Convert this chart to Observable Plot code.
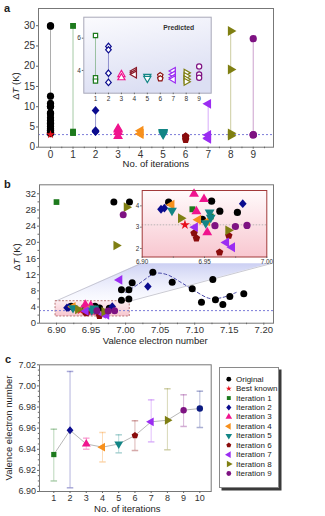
<!DOCTYPE html>
<html>
<head>
<meta charset="utf-8">
<script src="https://cdn.jsdelivr.net/npm/d3@7"></script>
<script src="https://cdn.jsdelivr.net/npm/@observablehq/plot@0.6"></script>
<style>
html,body{margin:0;padding:0;background:#fff;}
#root{position:relative;width:325px;height:516px;overflow:hidden;font-family:'Liberation Sans',Arial,Helvetica,sans-serif;}
#root svg{overflow:visible;}
</style>
</head>
<body>
<div id="root"></div>
<script>
// ---------------- data ----------------
const seriesNames   = ["Original","Best known","Iteration 1","Iteration 2","Iteration 3","Iteration 4","Iteration 5","Iteration 6","Iteration 7","Iteration 8","Iteration 9"];
const seriesColors  = ["#000000","#e8101c","#1d7a1d","#0b0b8e","#f0148e","#f7901c","#128585","#8a0c0c","#9b2cf2","#7f7f12","#7e1282"];
const seriesSymbols = ["circle","star","square","diamond","triUp","triLeft","triDown","pentagon","triLeft","triRight","circle"];
const seriesStep    = [0,0,1,2,3,4,5,6,7,8,9];

const venOriginal = [6.9212,6.9557,6.9623,6.9764,6.9483,6.9830,7.0056,6.9940,6.9940,7.0047,7.0047,7.0095,7.0394,7.0674,7.0964,7.1098,7.1262,7.1300,7.1407,7.1508,7.1710];
const dtOriginal  = [4.17,4.22,3.75,3.69,3.37,29.95,29.95,8.26,5.70,8.26,6.00,10.00,12.60,10.10,8.50,5.20,10.80,5.80,4.60,6.60,7.27];
const venBest = [6.9343];
const dtBest  = [3.11];
const venIter1 = [6.9000,6.9403,6.9550];
const dtIter1  = [29.95,3.84,3.50];
const venIter2 = [6.9151,6.9178,6.9807,7.0322];
const dtIter2  = [3.84,3.89,4.10,9.07];
const venIter3 = [6.9416,6.9496,6.9435,6.9522];
const dtIter3  = [4.56,4.31,3.74,2.75];
const venIter4 = [6.9236,6.9450,6.9522];
const dtIter4  = [4.05,3.35,3.27];
const venIter5 = [6.9239,6.9541,6.9510,6.9550];
const dtIter5  = [3.78,3.69,3.19,3.45];
const venIter6 = [6.9416,6.9435,6.9695,6.9621];
const dtIter6  = [2.72,2.48,2.60,1.82];
const venIter7 = [6.9912,6.9424,6.9674,6.9722];
const dtIter7  = [10.70,3.00,2.28,2.06];
const venIter8 = [7.0013,6.9864,6.9310,6.9690];
const dtIter8  = [28.70,19.20,3.42,2.85];
const venIter9 = [6.9965,6.9584,6.9748,6.9841];
const dtIter9  = [26.80,3.07,3.03,3.08];

// predicted values (inset of panel a)
const predSteps  = [1,2,3,4,5,6,7,8,9];
const predColors = ["#1d7a1d","#0b0b8e","#f0148e","#8a1a2a","#128585","#8a0c0c","#9b2cf2","#7f7f12","#7e1282"];
const predSymbols = ["square","diamond","triUp","triLeft","triDown","pentagon","triLeft","triRight","circle"];
const predIter1 = [6.17,3.55,3.34];
const predIter2 = [5.49,5.28,3.83,3.26];
const predIter3 = [3.75,3.55];
const predIter4 = [3.96,3.85,3.75];
const predIter5 = [3.63,3.50];
const predIter6 = [3.69,3.50];
const predIter7 = [3.96,3.75,3.55,3.45];
const predIter8 = [3.85,3.65,3.45,3.30];
const predIter9 = [4.25,3.75,3.55];

// model curve (panel b)
const curveVen = [7.000,7.018,7.043,7.060,7.080,7.100,7.122,7.140,7.160];
const curveDT  = [7.60,9.60,12.30,12.00,10.10,8.00,6.10,6.35,7.60];

// zoom box + wedge (panel b)
const zoomBoxVen = [6.8986,7.0060];
const zoomBoxDT  = [1.66,5.44];
const wedgeDT       = [5.44,14.7];
const wedgeLeftVen  = [6.8986,7.0216];
const wedgeRightVen = [7.0060,7.2097];

// panel c
const cIter    = [1,2,3,4,5,6,7,8,9,10];
const cMean    = [6.935,6.958,6.945,6.942,6.945,6.953,6.966,6.9675,6.977,6.9786];
const cLow     = [6.910,6.9035,6.940,6.928,6.9366,6.9388,6.947,6.9395,6.9616,6.9606];
const cHigh    = [6.959,7.0137,6.9505,6.9559,6.9537,6.967,6.9868,6.9973,6.9916,6.995];
const cColors  = ["#1d7a1d","#0b0b8e","#f0148e","#f7901c","#128585","#8a0c0c","#9b2cf2","#7f7f12","#7e1282","#0b1a80"];
const cSymbols = ["square","diamond","triUp","triLeft","triDown","pentagon","triLeft","triRight","circle","circle"];

// tick labels
const aTicksX = [0,1,2,3,4,5,6,7,8,9];
const aTicksY = [0,5,10,15,20,25,30];
const aInsetTicksX = [1,2,3,4,5,6,7,8,9];
const aInsetTicksY = [4,6];
const bTicksX = [6.90,6.95,7.00,7.05,7.10,7.15,7.20];
const bTicksY = [0,4,8,12,16,20,24,28,32];
const bInsetTicksX = [6.90,6.95,7.00];
const bInsetTicksY = [2,3,4];
const cTicksX = [1,2,3,4,5,6,7,8,9,10];
const cTicksY = [6.90,6.92,6.94,6.96,6.98,7.00,7.02];

const seriesVen = [venOriginal,venBest,venIter1,venIter2,venIter3,venIter4,venIter5,venIter6,venIter7,venIter8,venIter9];
const seriesDT  = [dtOriginal,dtBest,dtIter1,dtIter2,dtIter3,dtIter4,dtIter5,dtIter6,dtIter7,dtIter8,dtIter9];
const predDT    = [predIter1,predIter2,predIter3,predIter4,predIter5,predIter6,predIter7,predIter8,predIter9];

// ---------------- symbols ----------------
const sqrt3 = Math.sqrt(3);
const symTri = dir => ({draw(ctx, size) {
  const y = -Math.sqrt(size / (sqrt3 * 3));
  let p = [[0, 2 * y], [-sqrt3 * y, -y], [sqrt3 * y, -y]];
  if (dir === "down") p = p.map(([a, b]) => [a, -b]);
  if (dir === "left") p = p.map(([a, b]) => [b, a]);
  if (dir === "right") p = p.map(([a, b]) => [-b, a]);
  ctx.moveTo(p[0][0], p[0][1]); ctx.lineTo(p[1][0], p[1][1]); ctx.lineTo(p[2][0], p[2][1]); ctx.closePath();
}});
const symDiamond = {draw(ctx, size) {
  const w = Math.sqrt(size / 2) * 0.95, h = Math.sqrt(size / 2) * 1.08;
  ctx.moveTo(0, -h); ctx.lineTo(w, 0); ctx.lineTo(0, h); ctx.lineTo(-w, 0); ctx.closePath();
}};
const symPentagon = {draw(ctx, size) {
  const R = Math.sqrt(2 * size / (5 * Math.sin(2 * Math.PI / 5)));
  for (let k = 0; k < 5; k++) {
    const a = -Math.PI / 2 + k * 2 * Math.PI / 5;
    k ? ctx.lineTo(R * Math.cos(a), R * Math.sin(a)) : ctx.moveTo(R * Math.cos(a), R * Math.sin(a));
  }
  ctx.closePath();
}};
const symCap = {draw(ctx, size) { const w = Math.sqrt(size) / 1.2; ctx.moveTo(-w, 0); ctx.lineTo(w, 0); }};
const SYMBOLS = {circle: d3.symbolCircle, star: d3.symbolStar, square: d3.symbolSquare, diamond: symDiamond,
  triUp: symTri("up"), triDown: symTri("down"), triLeft: symTri("left"), triRight: symTri("right"), pentagon: symPentagon};
const SCALE = {circle: 1, star: 0.75, square: 0.92, diamond: 0.9, triUp: 1.02, triDown: 1.02, triLeft: 1.02, triRight: 1.02, pentagon: 0.95};

// ---------------- helpers ----------------
const FONT = "'Liberation Sans', Arial, Helvetica, sans-serif";
const root = document.getElementById("root");
function place(node, left, top) {
  node.style.position = "absolute"; node.style.left = left + "px"; node.style.top = top + "px";
  root.appendChild(node);
}
function label(html, cx, cy, size, rotate = false, weight = "normal") {
  const d = document.createElement("div");
  d.innerHTML = html;
  d.style.cssText = `position:absolute;left:${cx}px;top:${cy}px;font:${weight} ${size}px ${FONT};color:#222;white-space:nowrap;line-height:1;transform:translate(-50%,-50%)${rotate ? " rotate(-90deg)" : ""};`;
  root.appendChild(d);
}
function gradient(id, stops, x2 = 0, y2 = 1) {
  return () => {
    const g = d3.create("svg:defs");
    const lg = g.append("linearGradient").attr("id", id).attr("x1", 0).attr("y1", 0).attr("x2", x2).attr("y2", y2);
    stops.forEach(([o, c, op]) => lg.append("stop").attr("offset", o).attr("stop-color", c).attr("stop-opacity", op ?? 1));
    return g.node();
  };
}
function styleOf(size) {
  return {background: "transparent", color: "#333", fontFamily: FONT, fontSize: size + "px", overflow: "visible"};
}
function dotMark(data, x, y, sym, color, r, extra = {}) {
  return Plot.dot(data, {x, y, symbol: SYMBOLS[sym], r: r * SCALE[sym], fill: color, stroke: "none", ...extra});
}
const minorAxis = (axis, ticks, size, anchor) => axis(ticks, {tickSize: size, tickFormat: () => "", anchor, label: null, stroke: "#666"});

// ---------------- panel a ----------------
{
  const marks = [];
  marks.push(Plot.ruleY(dtBest, {y: d => d, stroke: "#7b7bd8", strokeDasharray: "2,2", strokeWidth: 1}));
  for (const s of aTicksX) {
    const idx = seriesStep.map((st, i) => st === s ? i : -1).filter(i => i >= 0);
    const vals = idx.flatMap(i => seriesDT[i]);
    const col = s === 0 ? "#777" : seriesColors[idx[0]];
    marks.push(Plot.ruleX([{x: s, y1: d3.min(vals), y2: d3.max(vals)}], {x: "x", y1: "y1", y2: "y2", stroke: col, strokeOpacity: s === 0 ? 0.6 : 0.4, strokeWidth: 1}));
  }
  seriesDT.forEach((arr, i) => {
    const data = arr.map(v => ({x: seriesStep[i], y: v}));
    marks.push(dotMark(data, "x", "y", seriesSymbols[i], seriesColors[i], 3.6));
  });
  marks.push(Plot.frame({stroke: "#777"}));
  marks.push(Plot.axisX(aTicksX, {tickSize: 2, tickPadding: 1.5, label: null, stroke: "#666"}));
  marks.push(minorAxis(Plot.axisX, d3.range(0.5, 9.9, 1), 1.5));
  marks.push(Plot.axisY(aTicksY, {tickSize: 2, tickPadding: 1.5, label: null, stroke: "#666"}));
  const svg = Plot.plot({
    width: 325, height: 172, marginLeft: 38, marginRight: 52, marginTop: 8, marginBottom: 25.3,
    x: {domain: [-0.533, 9.9]}, y: {domain: [0, 34.25]},
    style: styleOf(10), marks
  });
  place(svg, 0, 0);
}

// ---------------- inset of panel a ----------------
{
  const marks = [gradient("gradInsetA", [[0, "#fbfbfe"], [1, "#dcdff3"]], 0.3, 1)];
  marks.push(Plot.frame({fill: "url(#gradInsetA)", stroke: "#a8a8b8"}));
  predDT.forEach((arr, i) => {
    marks.push(Plot.ruleX([{x: predSteps[i], y1: d3.min(arr), y2: d3.max(arr)}], {x: "x", y1: "y1", y2: "y2", stroke: predColors[i], strokeOpacity: 0.4}));
  });
  predDT.forEach((arr, i) => {
    const data = arr.map(v => ({x: predSteps[i], y: v}));
    marks.push(dotMark(data, "x", "y", predSymbols[i], "white", 2.6, {stroke: predColors[i], strokeWidth: 1.2}));
  });
  marks.push(Plot.text(["Predicted"], {frameAnchor: "top-right", textAnchor: "end", dx: -17, dy: 8, fontWeight: "bold", fontSize: 6.8, fill: "#333"}));
  marks.push(Plot.axisX(aInsetTicksX, {tickSize: 1.5, tickPadding: 1.5, label: null, stroke: "#666"}));
  marks.push(Plot.axisY(aInsetTicksY, {tickSize: 1.5, tickPadding: 1.5, label: null, stroke: "#666"}));
  const svg = Plot.plot({
    width: 145, height: 92, marginLeft: 13.3, marginRight: 4.3, marginTop: 4.7, marginBottom: 11.3,
    x: {domain: [0.097, 9.93]}, y: {domain: [2.59, 7.3]},
    style: styleOf(6.5), marks
  });
  place(svg, 70, 12);
}

// ---------------- panel b ----------------
{
  const marks = [
    gradient("gradWedge", [[0, "#c9cdf2", 0.95], [1, "#f4f5ff", 0.4]]),
    gradient("gradZoomBox", [[0, "#fdeef1"], [1, "#f7c6cf"]])
  ];
  const wedge = wedgeDT.map((y, i) => ({y, x1: wedgeLeftVen[i], x2: wedgeRightVen[i]}));
  marks.push(Plot.areaX(wedge, {y: "y", x1: "x1", x2: "x2", fill: "url(#gradWedge)"}));
  marks.push(Plot.line(wedge, {x: "x1", y: "y", stroke: "#bdbdc8", strokeWidth: 0.8}));
  marks.push(Plot.line(wedge, {x: "x2", y: "y", stroke: "#bdbdc8", strokeWidth: 0.8}));
  marks.push(Plot.rect([{x1: zoomBoxVen[0], x2: zoomBoxVen[1], y1: zoomBoxDT[0], y2: zoomBoxDT[1]}],
    {x1: "x1", x2: "x2", y1: "y1", y2: "y2", fill: "url(#gradZoomBox)", stroke: "#b26a6a", strokeDasharray: "2,1.5", strokeWidth: 0.9}));
  marks.push(Plot.ruleY(dtBest, {y: d => d, stroke: "#7b7bd8", strokeDasharray: "2,2", strokeWidth: 1}));
  const curve = curveVen.map((x, i) => ({x, y: curveDT[i]}));
  marks.push(Plot.line(curve, {x: "x", y: "y", curve: "catmull-rom", stroke: "#4848a8", strokeDasharray: "3,2.5", strokeWidth: 1}));
  seriesDT.forEach((arr, i) => {
    const data = arr.map((v, j) => ({x: seriesVen[i][j], y: v}));
    marks.push(dotMark(data, "x", "y", seriesSymbols[i], seriesColors[i], 3.5));
  });
  marks.push(Plot.frame({stroke: "#777"}));
  marks.push(Plot.axisX(bTicksX, {tickSize: 2, tickPadding: 1.5, tickFormat: d3.format(".2f"), label: null, stroke: "#666"}));
  marks.push(minorAxis(Plot.axisX, d3.range(6.925, 7.2, 0.05), 1.5));
  marks.push(Plot.axisY(bTicksY, {tickSize: 2, tickPadding: 1.5, label: null, stroke: "#666"}));
  marks.push(minorAxis(Plot.axisY, d3.range(2, 34, 4), 1.5));
  const svg = Plot.plot({
    width: 325, height: 166, marginLeft: 39, marginRight: 52, marginTop: 12.3, marginBottom: 15.3,
    x: {domain: [6.8754, 7.214]}, y: {domain: [0, 34.22]},
    style: styleOf(9.5), marks
  });
  place(svg, 0, 172);
}

// ---------------- inset of panel b ----------------
{
  const xd = [6.90, 7.00], yd = [1.60, 4.72];
  const marks = [gradient("gradInsetB", [[0, "#fffafb"], [1, "#f8c7d0"]])];
  marks.push(Plot.frame({fill: "url(#gradInsetB)", stroke: "none"}));
  marks.push(Plot.ruleY(dtBest, {y: d => d, stroke: "#aaa", strokeDasharray: "1.5,1.5", strokeWidth: 0.8}));
  seriesDT.forEach((arr, i) => {
    const data = arr.map((v, j) => ({x: seriesVen[i][j], y: v}))
      .filter(d => d.x >= xd[0] - 0.003 && d.x <= xd[1] + 0.003 && d.y >= yd[0] - 0.2 && d.y <= yd[1] + 0.2);
    marks.push(dotMark(data, "x", "y", seriesSymbols[i], seriesColors[i], i === 1 ? 4.2 : 3.6));
  });
  marks.push(Plot.frame({stroke: "#a23a3a", strokeWidth: 1}));
  marks.push(Plot.axisX(bInsetTicksX, {tickSize: 1.5, tickPadding: 1.5, tickFormat: d3.format(".2f"), label: null, stroke: "#666"}));
  marks.push(minorAxis(Plot.axisX, [6.925, 6.975], 1.2));
  marks.push(Plot.axisY(bInsetTicksY, {tickSize: 1.5, tickPadding: 1.5, label: null, stroke: "#666"}));
  const svg = Plot.plot({
    width: 146, height: 80, marginLeft: 13.7, marginRight: 7.7, marginTop: 4, marginBottom: 9.5,
    x: {domain: xd}, y: {domain: yd},
    style: styleOf(6.3), marks
  });
  place(svg, 128, 186);
}

// ---------------- panel c ----------------
{
  const cData = cIter.map((x, i) => ({x, mean: cMean[i], low: cLow[i], high: cHigh[i], color: cColors[i]}));
  const marks = [];
  marks.push(Plot.ruleX(cData, {x: "x", y1: "low", y2: "high", stroke: "color", strokeOpacity: 0.3, strokeWidth: 1}));
  marks.push(Plot.dot(cData, {x: "x", y: "low", symbol: symCap, r: 2.2, stroke: "color", strokeOpacity: 0.35, fill: "none"}));
  marks.push(Plot.dot(cData, {x: "x", y: "high", symbol: symCap, r: 2.2, stroke: "color", strokeOpacity: 0.35, fill: "none"}));
  marks.push(Plot.line(cData, {x: "x", y: "mean", stroke: "#b8b8b8", strokeWidth: 1}));
  cData.forEach((d, i) => marks.push(dotMark([d], "x", "mean", cSymbols[i], cColors[i], 3.2)));
  marks.push(Plot.frame({stroke: "#777"}));
  marks.push(Plot.axisX(cTicksX, {tickSize: 2, tickPadding: 1.5, label: null, stroke: "#666"}));
  marks.push(Plot.axisY(cTicksY, {tickSize: 2, tickPadding: 1.5, tickFormat: d3.format(".2f"), label: null, stroke: "#666"}));
  marks.push(minorAxis(Plot.axisY, d3.range(6.905, 7.02, 0.005).filter(v => Math.abs(v * 50 - Math.round(v * 50)) > 0.01), 1.2));
  const svg = Plot.plot({
    width: 215, height: 164, marginLeft: 39, marginRight: 4.3, marginTop: 12.3, marginBottom: 25,
    x: {domain: [0.118, 10.70]}, y: {domain: [6.90, 7.02]},
    color: {type: "identity"},
    style: styleOf(9), marks
  });
  place(svg, 0, 352);
}

// ---------------- legend ----------------
{
  const box = document.createElement("div");
  box.style.cssText = "position:absolute;left:219px;top:367px;width:58px;height:119px;border:1px solid #8a8a8a;background:#fff;box-shadow:2.5px 2.5px 0 #3a3a3a;";
  root.appendChild(box);
  const rows = seriesNames.map((name, i) => ({name, i, y: 11.7 + i * 9.43}));
  const marks = [];
  rows.forEach((d, i) => marks.push(dotMark([d], () => 9.3, "y", seriesSymbols[i], seriesColors[i], 2.4)));
  marks.push(Plot.text(rows, {x: () => 16.5, y: "y", text: "name", textAnchor: "start", fill: "#222"}));
  const svg = Plot.plot({
    width: 59, height: 120, margin: 0, marginLeft: 0, marginRight: 0, marginTop: 0, marginBottom: 0,
    x: {domain: [0, 59], axis: null}, y: {domain: [0, 120], reverse: true, axis: null},
    style: styleOf(8), marks
  });
  place(svg, 219, 367);
}

// ---------------- titles ----------------
label("a", 7, 8, 11, false, "bold");
label("b", 7.3, 183.5, 11, false, "bold");
label("c", 8, 358.7, 11, false, "bold");
label("Δ<i>T</i> (K)", 15.5, 86, 9.5, true);
label("No. of iterations", 155.8, 164.3, 9.5);
label("Δ<i>T</i> (K)", 16.7, 256.7, 9.5, true);
label("Valence electron number", 155.3, 341, 9.5);
label("Valence electron number", 9, 428, 9.5, true);
label("No. of iterations", 127.3, 509, 9.5);
</script>
</body>
</html>
